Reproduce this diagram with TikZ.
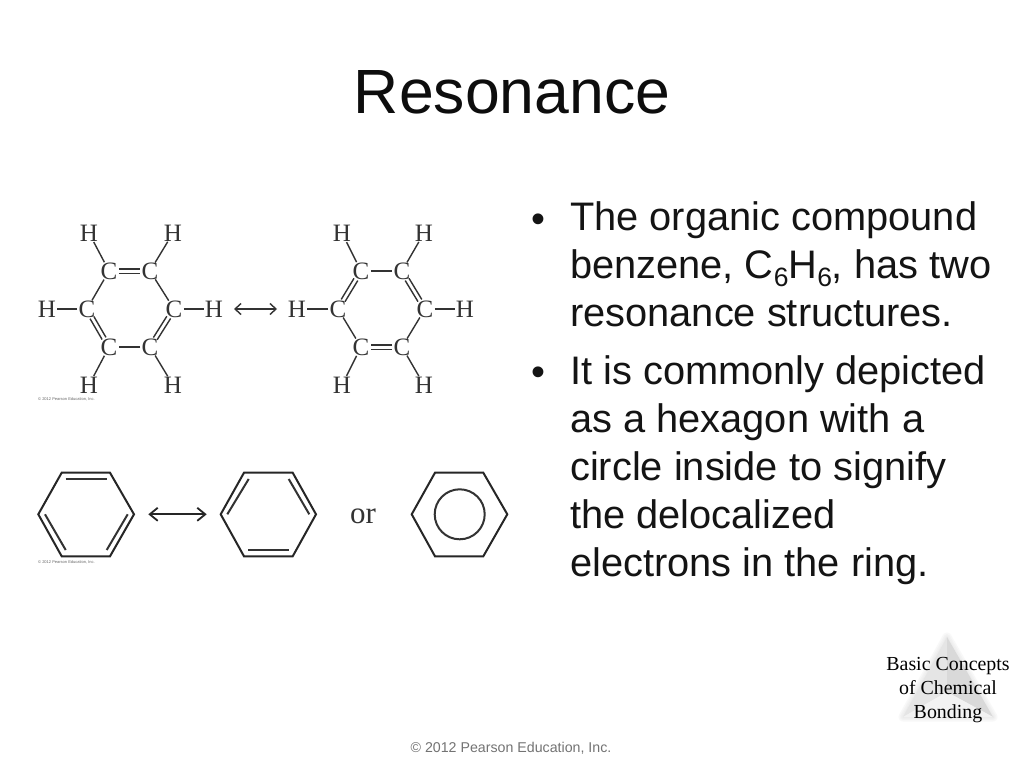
\documentclass[tikz,border=0pt]{standalone}
\usepackage{fontspec}
\setmainfont{Liberation Sans}
\newfontfamily\timesf{Liberation Serif}
\usetikzlibrary{arrows.meta}
\definecolor{ink}{HTML}{333333}
\tikzset{
  atom/.style={circle,inner sep=-1.5pt,text=ink,font=\timesf\fontsize{25}{25}\selectfont},
  bond/.style={draw=ink,line width=1.4pt},
  reson/.style={draw=ink,line width=1.4pt,{Straight Barb[length=6pt,width=11pt,line width=1.4pt]}-{Straight Barb[length=6pt,width=11pt,line width=1.4pt]}},
  resonbig/.style={draw=black!85,line width=1.8pt,{Straight Barb[length=8pt,width=13pt,line width=1.8pt]}-{Straight Barb[length=8pt,width=13pt,line width=1.8pt]}},
  ring/.style={draw=black!85,line width=2pt,line join=miter},
  ringin/.style={draw=black!80,line width=2pt},
  tiny/.style={anchor=west,inner sep=0pt,text=black!60,font=\fontsize{4}{4}\selectfont},
  body/.style={anchor=north west,inner sep=0pt,align=left,text=black!92,font=\fontsize{39.8}{48}\selectfont},
  bull/.style={anchor=base,inner sep=0pt,text=black!92,font=\fontsize{39.8}{48}\selectfont},
  corner/.style={align=center,inner sep=0pt,text=black,font=\timesf\fontsize{19.9}{24}\selectfont}
}
% double bond: two parallel strokes between two named atoms, shifted by (#3,#4)
\newcommand{\dblbond}[4]{%
  \draw[bond,transform canvas={xshift=#3pt,yshift=#4pt}] (#1) -- (#2);
  \draw[bond,transform canvas={xshift=-#3pt,yshift=-#4pt}] (#1) -- (#2);
}
\begin{document}
\begin{tikzpicture}[x=1pt,y=-1pt]
\useasboundingbox (0,0) rectangle (1024,768);
\fill[white] (0,0) rectangle (1024,768);

% title
\node[anchor=base,inner sep=0pt,text=black!95,font=\fontsize{62.5}{62.5}\selectfont] (title) at (512,113) {Resonance};

% left structure
\node[atom] (a1) at (109,271) {C};
\node[atom] (a2) at (150,271) {C};
\node[atom] (a3) at (174,309) {C};
\node[atom] (a4) at (150,347) {C};
\node[atom] (a5) at (109,347) {C};
\node[atom] (a6) at (87,309) {C};
\node[atom] (h1) at (89,233) {H};
\node[atom] (h2) at (173,233) {H};
\node[atom] (h3) at (214,309) {H};
\node[atom] (h4) at (173,385) {H};
\node[atom] (h5) at (89,385) {H};
\node[atom] (h6) at (47,309) {H};
\dblbond{a1}{a2}{0}{2.2}
\draw[bond] (a2) -- (a3);
\dblbond{a3}{a4}{1.9}{-1.1}
\draw[bond] (a4) -- (a5);
\dblbond{a5}{a6}{1.9}{1.1}
\draw[bond] (a6) -- (a1);
\draw[bond] (a1) -- (h1);
\draw[bond] (a2) -- (h2);
\draw[bond] (a3) -- (h3);
\draw[bond] (a4) -- (h4);
\draw[bond] (a5) -- (h5);
\draw[bond] (a6) -- (h6);

% right structure
\node[atom] (b1) at (361,271) {C};
\node[atom] (b2) at (402,271) {C};
\node[atom] (b3) at (425,309) {C};
\node[atom] (b4) at (402,347) {C};
\node[atom] (b5) at (361,347) {C};
\node[atom] (b6) at (338,309) {C};
\node[atom] (k1) at (342,233) {H};
\node[atom] (k2) at (424,233) {H};
\node[atom] (k3) at (465,309) {H};
\node[atom] (k4) at (424,385) {H};
\node[atom] (k5) at (342,385) {H};
\node[atom] (k6) at (297,309) {H};
\draw[bond] (b1) -- (b2);
\dblbond{b2}{b3}{1.9}{1.1}
\draw[bond] (b3) -- (b4);
\dblbond{b4}{b5}{0}{2.2}
\draw[bond] (b5) -- (b6);
\dblbond{b6}{b1}{1.9}{-1.1}
\draw[bond] (b1) -- (k1);
\draw[bond] (b2) -- (k2);
\draw[bond] (b3) -- (k3);
\draw[bond] (b4) -- (k4);
\draw[bond] (b5) -- (k5);
\draw[bond] (b6) -- (k6);

% upper resonance arrow
\coordinate (ua) at (234,309);
\coordinate (ub) at (277,309);
\draw[reson] (ua) -- (ub);

\node[tiny] (cap1) at (38,399.5) {© 2012 Pearson Education, Inc.};

% hexagon 1
\coordinate (p1) at (61.7,472.7);
\coordinate (p2) at (110,472.7);
\coordinate (p3) at (134,514.3);
\coordinate (p4) at (110,556.3);
\coordinate (p5) at (61.7,556.3);
\coordinate (p6) at (38.3,514.3);
\draw[ring] (p1) -- (p2) -- (p3) -- (p4) -- (p5) -- (p6) -- cycle;
\coordinate (pa) at (65.7,479);
\coordinate (pb) at (106.7,479);
\coordinate (pc) at (127.7,514.3);
\coordinate (pd) at (106.7,550);
\coordinate (pe) at (65.7,550);
\coordinate (pf) at (45,514.3);
\draw[ringin] (pa) -- (pb);
\draw[ringin] (pc) -- (pd);
\draw[ringin] (pe) -- (pf);

% lower resonance arrow
\coordinate (la) at (148.3,514.3);
\coordinate (lb) at (206.7,514.3);
\draw[resonbig] (la) -- (lb);

% hexagon 2
\coordinate (q1) at (244,472.7);
\coordinate (q2) at (292.7,472.7);
\coordinate (q3) at (316,514.3);
\coordinate (q4) at (292.7,556.3);
\coordinate (q5) at (244,556.3);
\coordinate (q6) at (220.7,514.3);
\draw[ring] (q1) -- (q2) -- (q3) -- (q4) -- (q5) -- (q6) -- cycle;
\coordinate (qa) at (248.7,479);
\coordinate (qb) at (227.3,514.3);
\coordinate (qc) at (288.7,479);
\coordinate (qd) at (309.3,514.3);
\coordinate (qe) at (248.3,550);
\coordinate (qf) at (289.3,550);
\draw[ringin] (qa) -- (qb);
\draw[ringin] (qc) -- (qd);
\draw[ringin] (qe) -- (qf);

\node[inner sep=0pt,text=ink,font=\timesf\fontsize{31}{31}\selectfont] (or) at (363,516) {or};

% hexagon 3
\coordinate (r1) at (435,472.7);
\coordinate (r2) at (483.3,472.7);
\coordinate (r3) at (507.3,514.3);
\coordinate (r4) at (483.3,556.3);
\coordinate (r5) at (435,556.3);
\coordinate (r6) at (411.7,514.3);
\draw[ring] (r1) -- (r2) -- (r3) -- (r4) -- (r5) -- (r6) -- cycle;
\coordinate (rc) at (459.7,514.3);
\draw[ringin] (rc) circle (25);

\node[tiny] (cap2) at (38,562) {© 2012 Pearson Education, Inc.};

% bullets
\node[bull] (bu1) at (538.5,232) {•};
\node[body] (t1) at (570,201.5) {The organic compound\\benzene, C\raisebox{-0.2em}{\fontsize{26.5}{26.5}\selectfont 6}H\raisebox{-0.2em}{\fontsize{26.5}{26.5}\selectfont 6}, has two\\resonance structures.};
\node[bull] (bu2) at (538.5,385) {•};
\node[body] (t2) at (570,355) {It is commonly depicted\\as a hexagon with a\\circle inside to signify\\the delocalized\\electrons in the ring.};

% corner pyramid
\coordinate (ta) at (947,637);
\coordinate (tb) at (903,717);
\coordinate (tc) at (993,717);
\coordinate (tm) at (947,692);
\foreach \w in {9,6,3}{
  \draw[black!12,opacity=0.22,line width=\w pt,line join=round,fill=black!6] (ta) -- (tb) -- (tc) -- cycle;
}
\fill[black!10] (ta) -- (tb) -- (tm) -- cycle;
\fill[black!15] (ta) -- (tc) -- (tm) -- cycle;
\fill[black!5] (tb) -- (tc) -- (tm) -- cycle;
\node[corner] (topic) at (948,690) {Basic Concepts\\of Chemical\\Bonding};

% footer
\node[inner sep=0pt,text=black!55,font=\fontsize{14.2}{14.2}\selectfont] (foot) at (511,748) {© 2012 Pearson Education, Inc.};
\end{tikzpicture}
\end{document}
